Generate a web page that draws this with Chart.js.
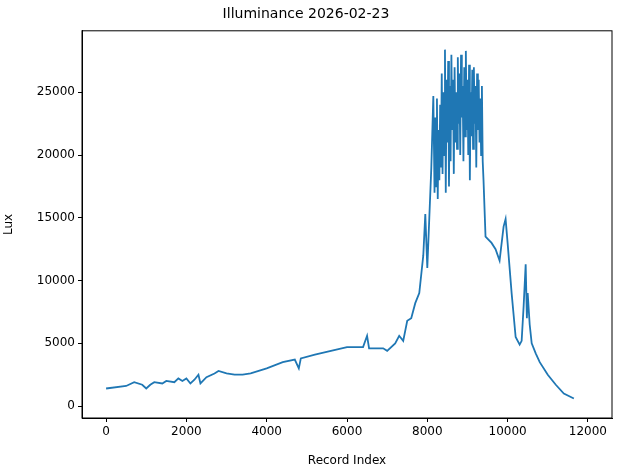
<!DOCTYPE html>
<html>
<head>
<meta charset="utf-8">
<script src="https://cdn.jsdelivr.net/npm/chart.js@4"></script>
<style>
  body { margin: 0; background: #fff; }
  #wrap { width: 629px; height: 470px; }
</style>
</head>
<body>
<div id="wrap"><canvas id="chart" width="629" height="470"></canvas></div>
<script>
// record index and lux readings
const recordIndex = [0, 500, 700, 900, 1000, 1100, 1200, 1400, 1500, 1700, 1800, 1900, 2000, 2100, 2200, 2300, 2350, 2500, 2700, 2800, 3000, 3200, 3400, 3600, 4000, 4400, 4700, 4800, 4850, 5200, 5600, 6000, 6400, 6500, 6550, 6900, 7000, 7200, 7300, 7400, 7500, 7600, 7700, 7800, 7900, 7950, 8000, 8050, 8100, 8150, 8180,
  8200, 8220, 8240, 8260, 8280, 8300, 8320, 8340, 8360, 8380, 8400, 8420, 8440, 8460, 8480, 8500, 8520, 8540, 8560, 8580, 8600, 8620, 8640, 8660, 8680, 8700, 8720, 8740, 8760, 8780, 8800, 8820, 8840, 8860, 8880, 8900, 8920, 8940, 8960, 8980, 9000, 9020, 9040, 9060, 9080, 9100, 9120, 9140, 9160, 9180, 9200, 9220, 9240, 9260, 9280, 9300, 9320, 9340, 9360, 9380, 9400,
  9450, 9600, 9700, 9800, 9900, 9950, 10000, 10100, 10200, 10300, 10350, 10400, 10450, 10480, 10500, 10550, 10600, 10700, 10800, 11000, 11200, 11400, 11650];
const lux = [1400, 1600, 1900, 1700, 1400, 1700, 1900, 1800, 2000, 1900, 2200, 2000, 2200, 1800, 2100, 2500, 1800, 2300, 2600, 2800, 2600, 2500, 2500, 2600, 3000, 3500, 3700, 3000, 3800, 4100, 4400, 4700, 4700, 5600, 4600, 4600, 4400, 5000, 5600, 5200, 6800, 7000, 8200, 9000, 12000, 15300, 11000, 15000, 19000, 24700, 17000,
  23000, 17500, 24500, 16500, 22000, 18000, 24000, 19000, 26500, 18500, 25000, 20000, 28400, 17000, 26000, 21000, 27500, 17500, 25500, 19500, 28000, 22000, 26000, 18500, 27000, 21000, 25000, 20500, 27800, 22500, 26500, 20000, 28000, 23000, 25500, 19500, 27000, 21500, 28300, 22000, 26000, 20000, 27200, 18000, 25000, 21500, 26800, 20500, 27000, 22500, 25500, 19000, 26500, 22000, 26000, 21000, 24500, 20000, 25500, 19500, 18000,
  13500, 13000, 12500, 11600, 14300, 14900, 13000, 9000, 5500, 4900, 5200, 8000, 11300, 7000, 9000, 6500, 5000, 4200, 3500, 2500, 1700, 1000, 600];
const xTicks = [0, 2000, 4000, 6000, 8000, 10000, 12000];
const yTicks = [0, 5000, 10000, 15000, 20000, 25000];

const font = { family: 'DejaVu Sans', size: 12 };
const frame = {
    id: 'frame',
    afterDraw(c) {
        const a = c.chartArea, g = c.ctx;
        g.save();
        g.strokeStyle = '#000';
        g.lineWidth = 1;
        g.strokeRect(a.left, a.top, a.right - a.left, a.bottom - a.top);
        g.restore();
    }
};

new Chart(document.getElementById('chart'), {
    type: 'line',
    data: {
        datasets: [{
            data: recordIndex.map((x, i) => ({ x: x, y: lux[i] })),
            borderColor: '#1f77b4',
            borderWidth: 1.8,
            pointRadius: 0,
            tension: 0
        }]
    },
    options: {
        responsive: false,
        animation: false,
        layout: { padding: { right: 17 } },
        plugins: {
            legend: { display: false },
            tooltip: { enabled: false },
            title: { display: true, text: 'Illuminance 2026-02-23', color: '#000', font: { family: 'DejaVu Sans', size: 14, weight: 'normal' }, padding: { top: 6, bottom: 8 } }
        },
        scales: {
            x: {
                type: 'linear', min: -600, max: 12600,
                afterBuildTicks: s => { s.ticks = xTicks.map(v => ({ value: v })); },
                afterFit: s => { s.height = 52; },
                ticks: { color: '#000', font: font, maxRotation: 0, callback: v => String(v) },
                grid: { drawOnChartArea: false, tickLength: 4, color: '#000' },
                border: { color: '#000' },
                title: { display: true, text: 'Record Index', color: '#000', font: font, padding: 2 }
            },
            y: {
                min: -950, max: 29900,
                afterBuildTicks: s => { s.ticks = yTicks.map(v => ({ value: v })); },
                afterFit: s => { s.width = 82; },
                ticks: { color: '#000', font: font, callback: v => String(v) },
                grid: { drawOnChartArea: false, tickLength: 4, color: '#000' },
                border: { color: '#000' },
                title: { display: true, text: 'Lux', color: '#000', font: font, padding: 2 }
            }
        }
    },
    plugins: [frame]
});
</script>
</body>
</html>
